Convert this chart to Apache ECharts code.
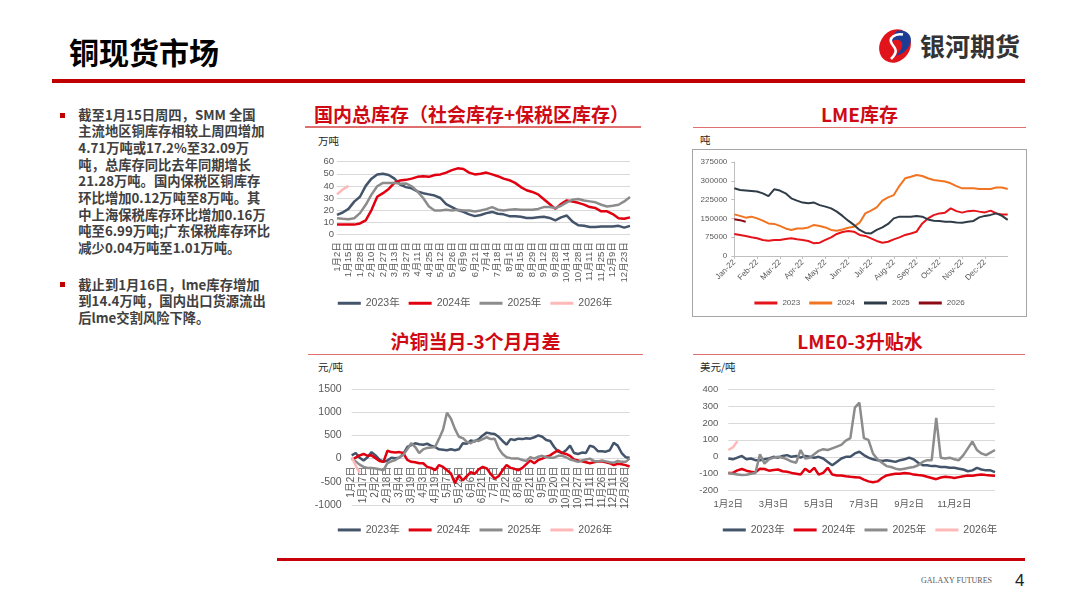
<!DOCTYPE html>
<html>
<head>
<meta charset="utf-8">
<script src="https://cdn.jsdelivr.net/npm/echarts@6/dist/echarts.min.js"></script>
<style>
body { margin: 0; background: #fff; }
#page { position: relative; width: 1080px; height: 608px; overflow: hidden; font-family: "Noto Sans CJK SC", sans-serif; }
.abs { position: absolute; white-space: nowrap; }
.ttl { font-size: 19px; font-weight: bold; color: #CF0A14; text-align: center; line-height: 20px; }
.uline { height: 1.5px; background: #E07070; }
.unit { font-size: 10.5px; line-height: 12px; color: #262626; }
.bul { width: 5px; height: 5px; background: #C00000; }
.txt { font-size: 13.3px; line-height: 16.67px; font-weight: bold; color: #404040; }
</style>
</head>
<body>
<div id="page">
  <div class="abs" style="left:69px;top:36px;font-size:30px;line-height:30px;font-weight:bold;color:#000;">铜现货市场</div>
  <svg class="abs" style="left:876px;top:28px" width="38" height="36" viewBox="0 0 38 36">
    <ellipse cx="19" cy="18" rx="15" ry="17.5" transform="rotate(35 19 18)" fill="#E1141C"/>
    <path d="M22 2.5 C31 1.5 37.5 8 34 16 C31 23 25 27 20 27.5 C26 22 28 16 24.5 13 C21.5 11 18.5 11.5 15.5 13.5 C16.5 8 18.5 4 22 2.5 Z" fill="#1D3C94"/>
    <path d="M27 6.5 C19 5 12 10 16 16 C19 20 23 23 15 31" stroke="#fff" stroke-width="2.6" fill="none"/>
  </svg>
  <div class="abs" style="left:920px;top:32px;font-size:25px;line-height:26px;font-weight:bold;color:#333;">银河期货</div>
  <div class="abs" style="left:52px;top:79.3px;width:973px;height:3.3px;background:#C00000;"></div>

  <div class="abs bul" style="left:60px;top:112.7px;"></div>
  <div class="abs txt" style="left:78.3px;top:106.7px;">截至1月15日周四，SMM 全国<br>主流地区铜库存相较上周四增加<br>4.71万吨或17.2%至32.09万<br>吨，总库存同比去年同期增长<br>21.28万吨。国内保税区铜库存<br>环比增加0.12万吨至8万吨。其<br>中上海保税库存环比增加0.16万<br>吨至6.99万吨;广东保税库存环比<br>减少0.04万吨至1.01万吨。</div>
  <div class="abs bul" style="left:60px;top:281.7px;"></div>
  <div class="abs txt" style="left:78.3px;top:276.7px;">截止到1月16日，lme库存增加<br>到14.4万吨，国内出口货源流出<br>后lme交割风险下降。</div>

  <div class="abs ttl" style="left:305px;top:104px;width:333px;">国内总库存（社会库存+保税区库存）</div>
  <div class="abs uline" style="left:305px;top:126px;width:336px;"></div>
  <div class="abs unit" style="left:318px;top:135px;">万吨</div>
  <div id="c1" class="abs" style="left:305px;top:130px;width:340px;height:180px;"></div>

  <div class="abs ttl" style="left:693px;top:104px;width:333px;">LME库存</div>
  <div class="abs uline" style="left:693px;top:126.5px;width:333px;"></div>
  <div class="abs unit" style="left:700px;top:134px;">吨</div>
  <div class="abs" style="left:692px;top:149px;width:335px;height:168px;border:1px solid #A6A6A6;box-sizing:border-box;"></div>
  <div id="c2" class="abs" style="left:693px;top:150px;width:333px;height:166px;"></div>

  <div class="abs ttl" style="left:309px;top:331px;width:333px;">沪铜当月-3个月月差</div>
  <div class="abs uline" style="left:308px;top:353.5px;width:335px;"></div>
  <div class="abs unit" style="left:318px;top:360.5px;">元/吨</div>
  <div id="c3" class="abs" style="left:305px;top:370px;width:340px;height:165px;"></div>

  <div class="abs ttl" style="left:693px;top:331px;width:334px;">LME0-3升贴水</div>
  <div class="abs uline" style="left:693px;top:353.5px;width:332px;"></div>
  <div class="abs unit" style="left:700px;top:360.5px;">美元/吨</div>
  <div id="c4" class="abs" style="left:690px;top:370px;width:340px;height:165px;"></div>

  <div class="abs" style="left:277px;top:557.5px;width:748px;height:3.5px;background:#C8000A;"></div>
  <div class="abs" style="left:921px;top:576px;font-size:8px;line-height:10px;color:#595959;font-family:'Liberation Serif',serif;">GALAXY FUTURES</div>
  <div class="abs" style="left:1015px;top:571px;font-size:17px;line-height:20px;color:#222;font-family:'Liberation Sans Narrow','Liberation Sans',sans-serif;">4</div>
</div>
<script>
// 国内总库存 (万吨), two points per axis label
var invMarks = ['1月2日', '1月15日', '1月28日', '2月10日', '2月27日', '3月13日', '3月27日', '4月11日', '4月25日',
    '5月12日', '5月26日', '6月9日', '6月21日', '7月4日', '7月18日', '8月1日', '8月15日', '8月29日', '9月12日',
    '9月28日', '10月14日', '10月28日', '11月11日', '11月25日', '12月9日', '12月23日'];
var inv2023 = [16, 18, 21, 27, 31, 40, 46, 49.5, 50, 49, 46, 41, 39, 38, 35.5, 34, 33, 32, 30, 25,
    22.5, 20, 18.5, 16.5, 15, 16, 17.5, 18.5, 17, 16.5, 15, 15, 14.5, 13.5, 13.5, 14, 14.5, 13.5, 11.5, 14,
    15.5, 10.5, 7.5, 7, 6, 6, 6.5, 6.5, 6.5, 7, 5.5, 7];
var inv2024 = [8, 8, 8, 8, 9, 11.5, 20, 31, 34, 37.5, 42.5, 44.5, 45, 46, 47.5, 48, 47.5, 49, 49.5, 51,
    53, 54.5, 54, 51, 49.5, 50, 51, 49.5, 48, 46, 44.7, 42.5, 39, 36.4, 35, 33, 29, 25, 21, 25,
    28, 27, 26, 24.5, 22.5, 21.7, 19, 19, 16.7, 13.3, 12.8, 14];
var inv2025 = [13.3, 12.8, 12.5, 13.3, 17.5, 24.4, 32.8, 39.7, 42.5, 42.5, 42.5, 41.7, 42, 39.7, 35.5, 30, 23, 19.7, 19.7, 20.3,
    19.7, 20.3, 19.7, 19.7, 18.9, 19.7, 20.8, 22.5, 20.3, 19.7, 20.3, 20.8, 20.3, 20.3, 20.3, 21, 22.5, 22.5, 21.7, 23.6,
    26.4, 28.6, 29.2, 28, 27.2, 26.4, 24.4, 23, 23.6, 24.4, 27.2, 30.8];
var inv2026 = [33, 37, 40];

// LME库存 (吨), four points per month
var lmeMonths = ['Jan-22', 'Feb-22', 'Mar-22', 'Apr-22', 'May-22', 'Jun-22', 'Jul-22', 'Aug-22', 'Sep-22', 'Oct-22', 'Nov-22', 'Dec-22'];
var lmeDays = [1, 8, 16, 23];
var lme2023 = [88000, 84000, 80000, 74500, 70500, 64000, 61000, 64000, 64000, 68000, 70500, 66500, 64000, 60000, 50500, 53000,
    64000, 74500, 88000, 96000, 100000, 97000, 84000, 80000, 70500, 60000, 53000, 57000, 66500, 74500, 84000, 90000,
    97000, 130000, 150000, 163000, 170000, 173000, 190000, 179000, 173000, 179000, 181000, 177000, 174000, 181000, 170000, 166000, 166000];
var lme2024 = [166000, 160000, 153000, 157000, 150000, 141000, 130000, 128000, 120000, 110000, 104000, 110000, 110000, 114000, 124000, 120000,
    114000, 104000, 101000, 106000, 113000, 117000, 133000, 170000, 181000, 194000, 221000, 234000, 243000, 280000, 310000, 316000,
    323000, 319000, 310000, 303000, 300000, 297000, 290000, 279000, 270000, 270000, 270000, 267000, 267000, 267000, 273000, 273000, 267000];
var lme2025 = [270000, 263000, 261000, 259000, 257000, 250000, 239000, 266000, 261000, 250000, 230000, 221000, 213000, 210000, 213000, 203000,
    197000, 190000, 177000, 160000, 141000, 124000, 104000, 92000, 90000, 104000, 114000, 128000, 150000, 157000, 157000, 157000,
    160000, 157000, 146000, 141000, 140000, 137000, 137000, 134000, 133000, 137000, 140000, 154000, 160000, 164000, 170000, 160000, 144000];
var lme2026 = [147000, 143000, 137000];

// 沪铜当月-3个月月差 (元/吨), three points per axis label
var spreadMarks = ['1月2日', '1月17日', '2月2日', '2月18日', '3月4日', '3月19日', '4月3日', '4月19日', '5月7日', '5月22日',
    '6月6日', '6月21日', '7月7日', '7月22日', '8月6日', '8月21日', '9月5日', '9月20日', '10月12日', '10月27日',
    '11月11日', '11月26日', '12月11日', '12月26日'];
var spread2023 = [70, 120, 20, -40, 30, 140, 70, -20, -70, -40, 20, 10, 20, 100, 250, 290, 330, 310, 300, 320,
    280, 250, 200, 190, 180, 200, 180, 200, 330, 320, 390, 370, 420, 500, 560, 540, 530, 470, 380, 300,
    420, 400, 430, 420, 440, 430, 460, 500, 470, 400, 380, 250, 150, 120, 180, 280, 120, 100, 130, 120,
    280, 250, 160, 160, 150, 180, 340, 280, 120, 30, 20];
var spread2024 = [-30, 20, 70, 100, 60, 70, 10, -50, -70, 170, 140, 130, 140, 120, -30, -70, -80, -100, -100, -180,
    -200, -250, -140, -180, -250, -320, -530, -360, -470, -380, -290, -330, -230, -180, -210, -330, -430, -380, -250, -140,
    -200, -220, -250, -200, -120, -40, -100, -30, 0, 40, 70, 130, 180, 120, 100, 60, -20, -40, -60, -80,
    -100, -80, -60, -60, -80, -100, -140, -110, -120, -140, -170];
var spread2025 = [0, -60, -130, -180, -200, -200, -215, -230, -250, -100, -60, -30, 30, 80, 200, 330, 250, 120, 200, 230,
    240, 250, 430, 620, 990, 860, 640, 470, 440, 360, 330, 390, 380, 420, 460, 420, 430, 220, 100, 30,
    10, 0, 0, -30, -50, 30, 0, 40, 60, 30, 20, 20, 60, 60, 30, -20, -40, -70, -40, -20,
    0, -50, -60, -40, -60, -80, -90, -50, -70, -70, 0];
var spread2026 = [30, -150, -300];

// LME0-3升贴水 (美元/吨), ten points per axis label
var basisMarks = ['1月2日', '3月3日', '5月3日', '7月3日', '9月2日', '11月2日'];
var basis2023 = [-10, -15, -5, 5, -15, -10, -20, -20, -15, -10, 0, -5, 5, 10, 0, 5, -5, 5, 0, -5,
    0, -10, -30, -50, -30, -10, 0, 0, 20, 30, 10, -5, -15, -20, -25, -20, -25, -30, -20, -15,
    -5, -15, -35, -50, -50, -55, -55, -60, -60, -65, -65, -70, -75, -85, -80, -65, -75, -80, -80, -90];
var basis2024 = [-95, -95, -80, -72, -82, -88, -92, -70, -72, -82, -78, -75, -85, -88, -95, -100, -105, -70, -90, -65,
    -105, -95, -65, -105, -110, -110, -115, -118, -120, -122, -135, -145, -150, -145, -125, -110, -105, -100, -100, -95,
    -98, -105, -108, -110, -118, -125, -132, -122, -118, -120, -125, -120, -115, -110, -112, -108, -105, -108, -110, -112];
var basis2025 = [-95, -100, -104, -108, -106, -100, -95, 15, -40, -15, -5, 0, -5, -15, -28, -35, 40, -10, -5, 15,
    35, 45, 40, 50, 60, 70, 95, 110, 290, 320, 110, 100, 20, -15, -35, -55, -60, -70, -75, -70,
    -65, -60, -50, -30, -20, -20, 230, -5, -10, -5, -15, -20, 10, 50, 90, 40, 20, 10, 25, 40];
var basis2026 = [40, 55, 92];

var DAY = 86400000;
var labelFont = "'Liberation Sans', 'Noto Sans CJK SC', sans-serif";

function parseMD(s) {
    var m = s.match(/(\d+)月(\d+)日/);
    return new Date(2024, +m[1] - 1, +m[2]);
}

function fmtMD(d) {
    return (d.getMonth() + 1) + '月' + d.getDate() + '日';
}

// marks shown on the axis, with hidden dates filled in between them
function fillDates(marks, per, tail, tailStep) {
    var out = [];
    for (var k = 0; k < marks.length; k++) {
        var a = parseMD(marks[k]);
        out.push(marks[k]);
        if (k < marks.length - 1) {
            var step = (parseMD(marks[k + 1]) - a) / per;
            for (var j = 1; j < per; j++) out.push(fmtMD(new Date(a.getTime() + step * j)));
        } else {
            for (var t = 1; t <= tail; t++) out.push(fmtMD(new Date(a.getTime() + tailStep * DAY * t)));
        }
    }
    return out;
}

function everyNth(n, count) {
    return function (idx) { return idx % n === 0 && idx < count; };
}

function plain(v) {
    return String(v);
}

function lineSeries(name, data, color, width) {
    return {
        name: name,
        type: 'line',
        data: data,
        symbol: 'none',
        showSymbol: false,
        lineStyle: { color: color, width: width },
        itemStyle: { color: color },
        emphasis: { disabled: true }
    };
}

function legendOf(names, top, size, gap, width) {
    return {
        data: names,
        top: top,
        left: 'center',
        icon: 'rect',
        itemWidth: width,
        itemHeight: 3,
        itemGap: gap,
        textStyle: { fontSize: size, color: '#595959', fontFamily: labelFont }
    };
}

var yearNames = ['2023年', '2024年', '2025年', '2026年'];
var yearColors = ['#44546A', '#E00010', '#8C8C8C', '#FFB8B8'];

function createInvChart(chart) {
    var cats = fillDates(invMarks, 2, 1, 7);
    var option = {
        animation: false,
        grid: { left: 32, right: 15, top: 31.7, bottom: 75.7, outerBoundsMode: 'none' },
        legend: legendOf(yearNames, 163, 10.5, 9, 23),
        xAxis: {
            type: 'category',
            data: cats,
            boundaryGap: false,
            axisLine: { show: false },
            axisTick: { show: false },
            axisLabel: { rotate: 90, interval: everyNth(2, 51), fontSize: 9.5, color: '#595959', margin: 8, fontFamily: labelFont }
        },
        yAxis: {
            type: 'value',
            min: 0,
            max: 60,
            interval: 10,
            axisLabel: { fontSize: 9.5, color: '#595959', margin: 3, fontFamily: labelFont, formatter: plain },
            splitLine: { lineStyle: { color: '#D9D9D9', width: 1 } }
        },
        series: [
            lineSeries('2023年', inv2023, yearColors[0], 2.5),
            lineSeries('2024年', inv2024, yearColors[1], 2.5),
            lineSeries('2025年', inv2025, yearColors[2], 2.5),
            lineSeries('2026年', inv2026, yearColors[3], 2.5)
        ]
    };
    chart.setOption(option);
}

function createLmeChart(chart) {
    var cats = [];
    lmeMonths.forEach(function (m, mi) {
        lmeDays.forEach(function (d) {
            cats.push('2022-' + (mi < 9 ? '0' : '') + (mi + 1) + '-' + (d < 10 ? '0' : '') + d);
        });
    });
    cats.push('2022-12-31');
    var option = {
        animation: false,
        grid: { left: 41.3, right: 18.3, top: 12, bottom: 60, outerBoundsMode: 'none' },
        legend: legendOf(['2023', '2024', '2025', '2026'], 144, 8, 9, 23),
        xAxis: {
            type: 'category',
            data: cats,
            boundaryGap: false,
            axisLine: { lineStyle: { color: '#BFBFBF' } },
            axisTick: { interval: everyNth(4, 48), length: 3, lineStyle: { color: '#BFBFBF' } },
            axisLabel: {
                rotate: 45, interval: everyNth(4, 48), fontSize: 8, color: '#595959', margin: 5, fontFamily: labelFont,
                formatter: function (v) { return lmeMonths[+v.slice(5, 7) - 1]; }
            }
        },
        yAxis: {
            type: 'value',
            min: 0,
            max: 375000,
            interval: 75000,
            axisLine: { show: true, lineStyle: { color: '#BFBFBF' } },
            axisTick: { show: true, length: 3, lineStyle: { color: '#BFBFBF' } },
            axisLabel: { fontSize: 8, color: '#595959', margin: 7, fontFamily: labelFont, formatter: plain },
            splitLine: { show: false }
        },
        series: [
            lineSeries('2023', lme2023, '#E5141B', 2),
            lineSeries('2024', lme2024, '#F07421', 2),
            lineSeries('2025', lme2025, '#2F3C48', 2),
            lineSeries('2026', lme2026, '#8B0A14', 2)
        ]
    };
    chart.setOption(option);
}

function createSpreadChart(chart) {
    var cats = fillDates(spreadMarks, 3, 1, 5);
    // plot is 116px tall over -1000..1500, so the zero line sits 46.4px above the bottom
    var option = {
        animation: false,
        grid: { left: 46.7, right: 15.4, top: 19, bottom: 30, outerBoundsMode: 'none' },
        legend: legendOf(yearNames, 149.7, 10.5, 9, 23),
        xAxis: {
            type: 'category',
            data: cats,
            boundaryGap: false,
            offset: -46.4,
            axisLine: { onZero: false, lineStyle: { color: '#D9D9D9' } },
            axisTick: { show: false },
            axisLabel: { rotate: 90, interval: everyNth(3, 70), fontSize: 10, color: '#595959', margin: 8, fontFamily: labelFont }
        },
        yAxis: {
            type: 'value',
            min: -1000,
            max: 1500,
            interval: 500,
            axisLabel: { fontSize: 10.5, color: '#595959', margin: 10, fontFamily: labelFont, formatter: plain },
            splitLine: { lineStyle: { color: '#D9D9D9', width: 1 } }
        },
        series: [
            lineSeries('2023年', spread2023, yearColors[0], 2.5),
            lineSeries('2024年', spread2024, yearColors[1], 2.5),
            lineSeries('2025年', spread2025, yearColors[2], 2.5),
            lineSeries('2026年', spread2026, yearColors[3], 2.5)
        ]
    };
    chart.setOption(option);
}

function createBasisChart(chart) {
    var cats = fillDates(basisMarks, 10, 9, 6.1);
    var option = {
        animation: false,
        grid: { left: 38.3, right: 35, top: 19, bottom: 44.3, outerBoundsMode: 'none' },
        legend: legendOf(yearNames, 149.7, 10.5, 9, 23),
        xAxis: {
            type: 'category',
            data: cats,
            boundaryGap: false,
            axisLine: { show: false },
            axisTick: { show: false },
            axisLabel: { interval: everyNth(10, 51), fontSize: 9.5, color: '#595959', margin: 9, fontFamily: labelFont }
        },
        yAxis: {
            type: 'value',
            min: -200,
            max: 400,
            interval: 100,
            axisLabel: { fontSize: 9.5, color: '#595959', margin: 10, fontFamily: labelFont, formatter: plain },
            splitLine: { lineStyle: { color: '#D9D9D9', width: 1 } }
        },
        series: [
            lineSeries('2023年', basis2023, yearColors[0], 2.5),
            lineSeries('2024年', basis2024, yearColors[1], 2.5),
            lineSeries('2025年', basis2025, yearColors[2], 2.5),
            lineSeries('2026年', basis2026, yearColors[3], 2.5)
        ]
    };
    chart.setOption(option);
}

var charts = {};
charts.inv = echarts.init(document.getElementById('c1'));
charts.lme = echarts.init(document.getElementById('c2'));
charts.spread = echarts.init(document.getElementById('c3'));
charts.basis = echarts.init(document.getElementById('c4'));
createInvChart(charts.inv);
createLmeChart(charts.lme);
createSpreadChart(charts.spread);
createBasisChart(charts.basis);
</script>
</body>
</html>
